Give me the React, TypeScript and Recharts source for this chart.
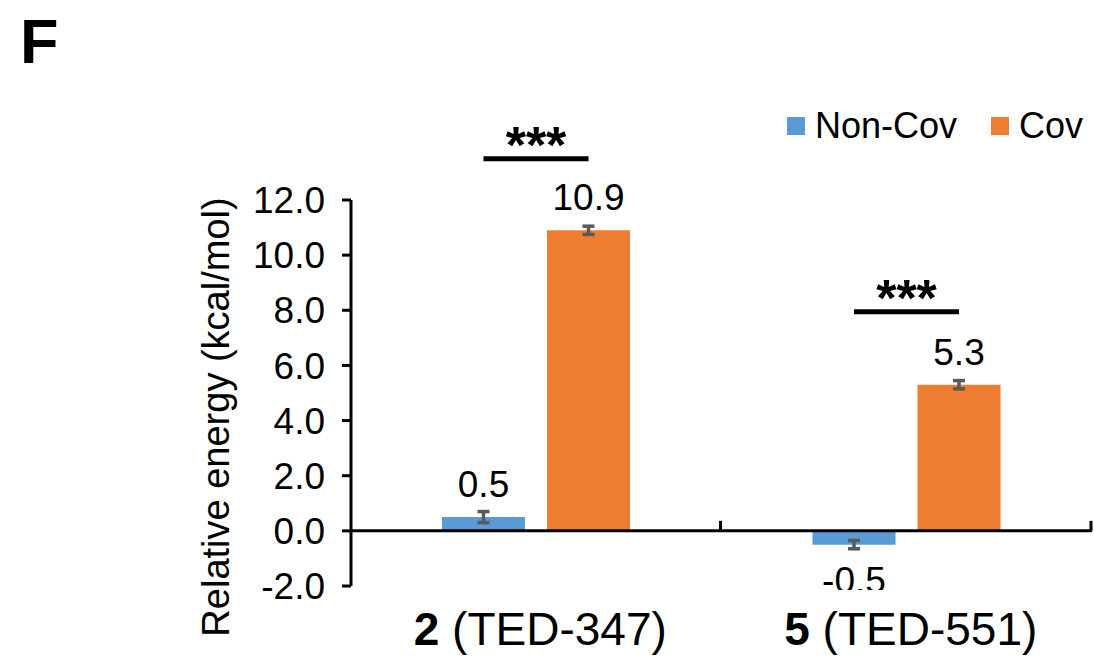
import { BarChart, Bar, XAxis, YAxis, ErrorBar, LabelList, ReferenceLine } from "recharts";

const compounds = ["2", "5"];
const compoundCodes = ["TED-347", "TED-551"];
const nonCovValues = [0.5, -0.5];
const nonCovErrors = [0.2, 0.15];
const covValues = [10.9, 5.3];
const covErrors = [0.15, 0.15];
const sigLevels = [13.5, 7.95];
const sigMarks = ["***", "***"];
const yTicks = [-2, 0, 2, 4, 6, 8, 10, 12];

const series = [
  { key: "nonCov", name: "Non-Cov", color: "#5B9BD5" },
  { key: "cov", name: "Cov", color: "#ED7D31" },
];

const data = compounds.map((c, i) => ({
  label: `${c} (${compoundCodes[i]})`,
  num: c,
  code: compoundCodes[i],
  nonCov: nonCovValues[i],
  nonCovErr: nonCovErrors[i],
  cov: covValues[i],
  covErr: covErrors[i],
  sig: sigLevels[i],
  mark: sigMarks[i],
}));

const FONT = '"Liberation Sans", Arial, sans-serif';
const Y_MIN = -2;
const Y_MAX = 12;
const BAR_SIZE = 83;
const BAR_GAP = 22;

function geom(props: any) {
  const vb = props.viewBox && props.viewBox.width != null ? props.viewBox : props;
  const x = Number(vb.x);
  const y = Number(vb.y);
  const w = Number(vb.width);
  const h = Number(vb.height);
  return { x, w, top: Math.min(y, y + h), bottom: Math.max(y, y + h), h: Math.abs(h) };
}

// value label above positive bars, below negative ones (clipped at the plot bottom like the original)
const makeValueLabel = (key: string) => (props: any) => {
  const value = Number(props.value);
  const g = geom(props);
  const cx = g.x + g.w / 2;
  const ppu = g.h / Math.abs(value);
  const zeroY = value >= 0 ? g.bottom : g.top;
  const plotBottom = zeroY + (0 - Y_MIN) * ppu;
  const id = `clip-${key}-${props.index}`;
  return (
    <g>
      <defs>
        <clipPath id={id}>
          <rect x={cx - 100} y={0} width={200} height={plotBottom + 4} />
        </clipPath>
      </defs>
      <text
        x={cx}
        y={value >= 0 ? g.top - 20 : g.bottom + 48}
        textAnchor="middle"
        fontSize={37}
        fontFamily={FONT}
        fill="#000"
        clipPath={`url(#${id})`}
      >
        {value.toFixed(1)}
      </text>
    </g>
  );
};

// significance bracket between the two bars of a group
const SigLabel = (props: any) => {
  const row = data[props.index];
  if (!row) return null;
  const g = geom(props);
  const ppu = g.h / Math.abs(row.cov);
  const zeroY = row.cov >= 0 ? g.bottom : g.top;
  const y = zeroY - row.sig * ppu;
  const x2 = g.x + g.w / 2;
  const x1 = x2 - (g.w + BAR_GAP);
  return (
    <g>
      <line x1={x1} x2={x2} y1={y} y2={y} stroke="#000" strokeWidth={5} />
      <text
        x={(x1 + x2) / 2}
        y={y + 4}
        textAnchor="middle"
        fontSize={52}
        fontWeight="bold"
        fontFamily={FONT}
        fill="#000"
      >
        {row.mark}
      </text>
    </g>
  );
};

// zero line acting as the category axis, with tick marks at group boundaries
const ZeroAxis = (props: any) => {
  const x1 = Number(props.x1);
  const x2 = Number(props.x2);
  const y = Number(props.y1);
  const step = (x2 - x1) / data.length;
  return (
    <g>
      <line x1={x1} x2={x2} y1={y} y2={y} stroke="#000" strokeWidth={3} />
      {data.map((_, i) => (
        <line
          key={i}
          x1={x1 + step * (i + 1) - 1}
          x2={x1 + step * (i + 1) - 1}
          y1={y}
          y2={y - 10}
          stroke="#000"
          strokeWidth={3}
        />
      ))}
    </g>
  );
};

const CompoundTick = (props: any) => {
  const { x, y, payload } = props;
  const row = data.find((d) => d.label === payload.value);
  if (!row) return null;
  return (
    <text x={x + 4} y={y + 59} textAnchor="middle" fontSize={46} fontFamily={FONT} fill="#000">
      <tspan fontWeight="bold">{row.num}</tspan>
      <tspan> ({row.code})</tspan>
    </text>
  );
};

const YTitle = (props: any) => {
  const vb = props.viewBox || { x: 0, y: 200, width: 351, height: 386 };
  const x = vb.x + 229;
  const y = vb.y + vb.height / 2 + 24;
  return (
    <text
      x={x}
      y={y}
      transform={`rotate(-90, ${x}, ${y})`}
      textAnchor="middle"
      fontSize={38}
      fontFamily={FONT}
      fill="#000"
    >
      Relative energy (kcal/mol)
    </text>
  );
};

export default function App() {
  return (
    <div style={{ position: "absolute", left: 0, top: 0, width: 1094, height: 659, background: "#fff", fontFamily: FONT }}>
      <div style={{ position: "absolute", left: 20, top: 10, fontSize: 63, lineHeight: "63px", fontWeight: "bold" }}>F</div>
      <div
        style={{
          position: "absolute",
          left: 787,
          top: 108,
          display: "flex",
          alignItems: "center",
          fontSize: 36,
          lineHeight: "36px",
          whiteSpace: "nowrap",
        }}
      >
        {series.map((s, i) => (
          <div key={s.key} style={{ display: "flex", alignItems: "center", marginRight: i < series.length - 1 ? 34 : 0 }}>
            <div style={{ width: 18, height: 18, background: s.color, marginRight: 10 }} />
            <span>{s.name}</span>
          </div>
        ))}
      </div>
      <BarChart
        width={1094}
        height={659}
        data={data}
        margin={{ top: 200, right: 2, bottom: 0, left: 0 }}
        barSize={BAR_SIZE}
        barGap={BAR_GAP}
      >
        <XAxis
          dataKey="label"
          axisLine={false}
          tickLine={false}
          tickSize={0}
          tickMargin={0}
          height={73}
          interval={0}
          tick={<CompoundTick />}
        />
        <YAxis
          width={351}
          domain={[Y_MIN, Y_MAX]}
          ticks={yTicks}
          interval={0}
          tickFormatter={(v: number) => v.toFixed(1)}
          axisLine={{ stroke: "#000", strokeWidth: 3 }}
          tickLine={{ stroke: "#000", strokeWidth: 3 }}
          tickSize={9}
          tickMargin={17}
          tick={{ fill: "#000", fontSize: 37, fontFamily: FONT }}
          label={{ content: (p: any) => <YTitle {...p} /> }}
        />
        <Bar dataKey="nonCov" name="Non-Cov" fill={series[0].color} isAnimationActive={false}>
          <ErrorBar dataKey="nonCovErr" direction="y" width={6} stroke="#595959" strokeWidth={3.5} />
          <LabelList dataKey="nonCov" content={makeValueLabel("nonCov")} />
        </Bar>
        <Bar dataKey="cov" name="Cov" fill={series[1].color} isAnimationActive={false}>
          <ErrorBar dataKey="covErr" direction="y" width={6} stroke="#595959" strokeWidth={3.5} />
          <LabelList dataKey="cov" content={makeValueLabel("cov")} />
          <LabelList dataKey="sig" content={SigLabel} />
        </Bar>
        <ReferenceLine y={0} shape={ZeroAxis} />
      </BarChart>
    </div>
  );
}
